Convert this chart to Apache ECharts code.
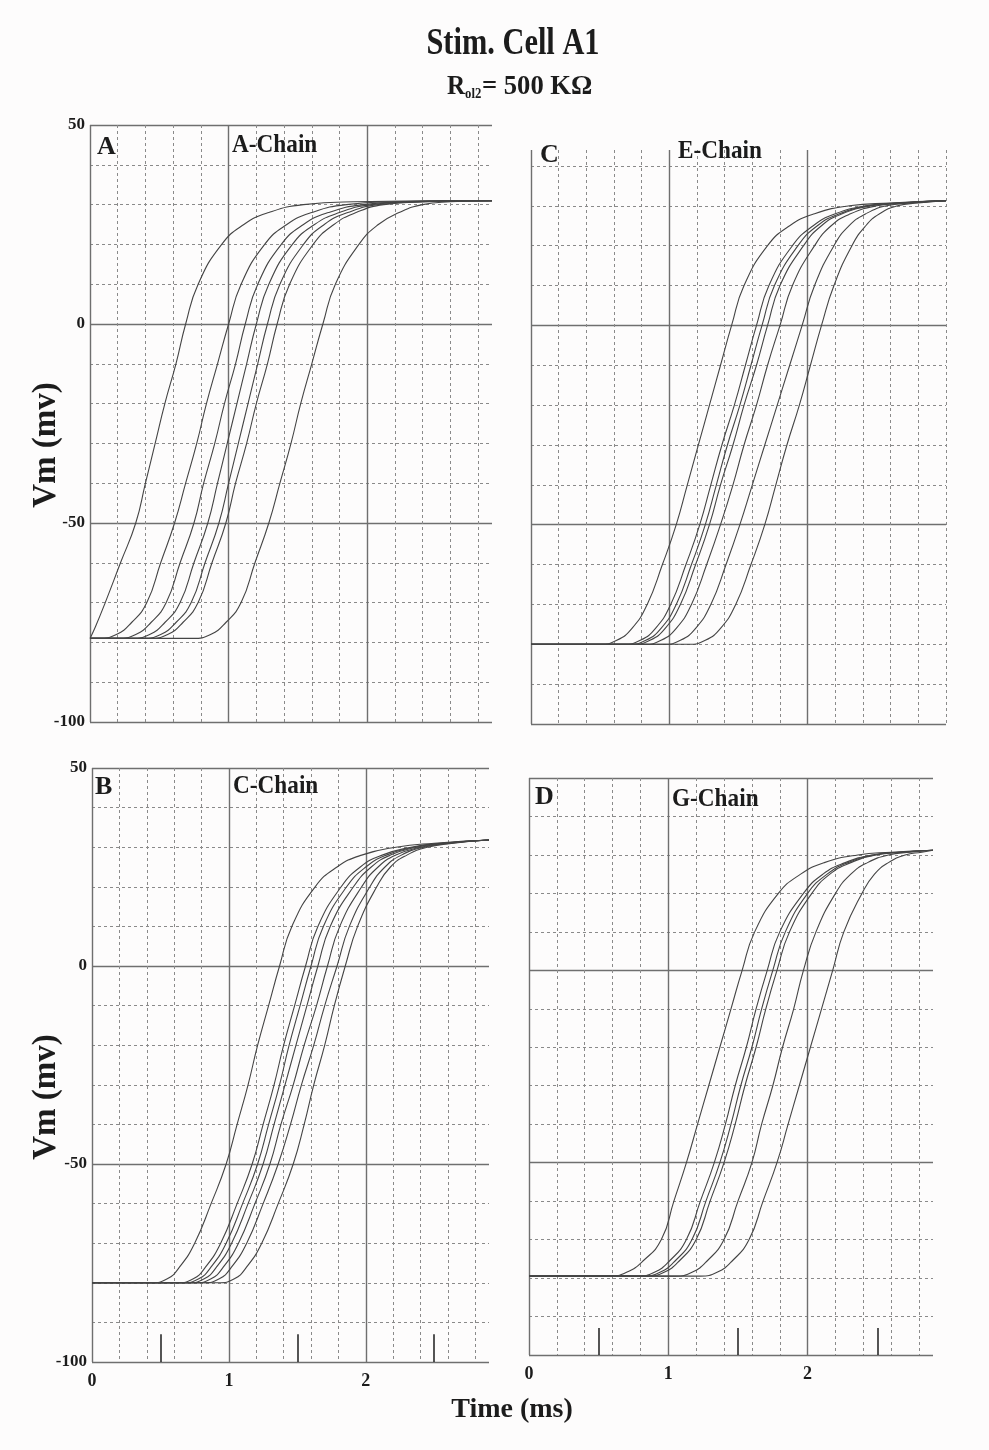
<!DOCTYPE html>
<html><head><meta charset="utf-8">
<script src="https://cdn.jsdelivr.net/npm/echarts@6/dist/echarts.min.js"></script>
<style>html,body{margin:0;padding:0;background:#fdfcfc}#c{width:989px;height:1450px}</style>
</head><body><div id="c"></div>
<script>
// ---------- tick labels ----------
const yTickValues = [-100, -50, 0, 50];
const xTickValues = [0, 1, 2];
// stimulus markers (time in ms) and their vertical extent (mV)
const stimTimes = [0.5, 1.5, 2.5];
const stimSpan = [-100, -93];

// ---------- Panel A : A-Chain ----------
const A1 = [[0,-79],[0.04,-76],[0.11,-70],[0.22,-60],[0.33,-50],[0.40,-40],[0.47,-30],[0.54,-20],[0.62,-10],[0.69,0],[0.78,10],[0.95,20],[1.11,25],[1.29,28],[1.54,30],[1.9,30.7],[2.9,31]];
const A2 = [[0,-79],[0.06,-79],[0.19,-78],[0.30,-75],[0.41,-70],[0.51,-60],[0.61,-50],[0.69,-40],[0.77,-30],[0.84,-20],[0.92,-10],[1.00,0],[1.09,10],[1.26,20],[1.42,25],[1.6,28],[1.85,30],[2.2,30.7],[2.9,31]];
const A3 = [[0,-79],[0.2,-79],[0.33,-78],[0.44,-75],[0.55,-70],[0.65,-60],[0.75,-50],[0.82,-40],[0.90,-30],[0.97,-20],[1.05,-10],[1.12,0],[1.21,10],[1.38,20],[1.54,25],[1.72,28],[1.97,30],[2.3,30.7],[2.9,31]];
const A4 = [[0,-79],[0.3,-79],[0.43,-78],[0.54,-75],[0.65,-70],[0.75,-60],[0.85,-50],[0.92,-40],[0.99,-30],[1.06,-20],[1.13,-10],[1.20,0],[1.29,10],[1.46,20],[1.62,25],[1.8,28],[2.03,30],[2.35,30.7],[2.9,31]];
const A5 = [[0,-79],[0.38,-79],[0.51,-78],[0.62,-75],[0.73,-70],[0.83,-60],[0.93,-50],[1.00,-40],[1.07,-30],[1.14,-20],[1.21,-10],[1.28,0],[1.37,10],[1.54,20],[1.69,25],[1.86,28],[2.08,30],[2.4,30.7],[2.9,31]];
const A6 = [[0,-79],[0.43,-79],[0.56,-78],[0.67,-75],[0.78,-70],[0.88,-60],[0.98,-50],[1.05,-40],[1.13,-30],[1.20,-20],[1.28,-10],[1.35,0],[1.44,10],[1.61,20],[1.76,25],[1.92,28],[2.12,30],[2.42,30.7],[2.9,31]];
const A7 = [[0,-79],[0.74,-79],[0.87,-78],[0.98,-75],[1.09,-70],[1.19,-60],[1.29,-50],[1.37,-40],[1.45,-30],[1.52,-20],[1.60,-10],[1.68,0],[1.77,10],[1.94,20],[2.08,25],[2.23,28],[2.4,30],[2.6,30.7],[2.9,31]];

// ---------- Panel B : C-Chain ----------
const B1 = [[0,-80],[0.43,-80],[0.55,-79],[0.64,-76],[0.75,-70],[0.87,-60],[0.98,-50],[1.06,-40],[1.14,-30],[1.21,-20],[1.29,-10],[1.37,0],[1.46,10],[1.63,20],[1.79,25],[1.97,28],[2.22,30],[2.5,31],[2.9,31.8]];
const B2 = [[0,-80],[0.62,-80],[0.74,-79],[0.83,-76],[0.94,-70],[1.06,-60],[1.17,-50],[1.25,-40],[1.33,-30],[1.40,-20],[1.48,-10],[1.56,0],[1.65,10],[1.82,20],[1.96,25],[2.12,28],[2.33,30],[2.55,31],[2.9,31.8]];
const B3 = [[0,-80],[0.66,-80],[0.78,-79],[0.87,-76],[0.98,-70],[1.10,-60],[1.21,-50],[1.29,-40],[1.37,-30],[1.44,-20],[1.52,-10],[1.60,0],[1.69,10],[1.86,20],[2.0,25],[2.15,28],[2.35,30],[2.57,31],[2.9,31.8]];
const B4 = [[0,-80],[0.70,-80],[0.82,-79],[0.91,-76],[1.02,-70],[1.14,-60],[1.25,-50],[1.33,-40],[1.41,-30],[1.49,-20],[1.57,-10],[1.65,0],[1.74,10],[1.91,20],[2.04,25],[2.18,28],[2.37,30],[2.58,31],[2.9,31.8]];
const B5 = [[0,-80],[0.75,-80],[0.87,-79],[0.96,-76],[1.07,-70],[1.19,-60],[1.30,-50],[1.38,-40],[1.47,-30],[1.55,-20],[1.64,-10],[1.72,0],[1.81,10],[1.97,20],[2.09,25],[2.22,28],[2.4,30],[2.6,31],[2.9,31.8]];
const B6 = [[0,-80],[0.81,-80],[0.93,-79],[1.02,-76],[1.13,-70],[1.25,-60],[1.36,-50],[1.45,-40],[1.53,-30],[1.62,-20],[1.70,-10],[1.79,0],[1.88,10],[2.03,20],[2.14,25],[2.26,28],[2.42,30],[2.62,31],[2.9,31.8]];
const B7 = [[0,-80],[0.92,-80],[1.04,-79],[1.13,-76],[1.24,-70],[1.36,-60],[1.47,-50],[1.55,-40],[1.62,-30],[1.70,-20],[1.77,-10],[1.85,0],[1.94,10],[2.08,20],[2.18,25],[2.3,28],[2.45,30],[2.64,31],[2.9,31.8]];

// ---------- Panel C : E-Chain ----------
const C1 = [[0,-80],[0.5,-80],[0.62,-79],[0.73,-76],[0.84,-70],[0.95,-60],[1.05,-50],[1.13,-40],[1.21,-30],[1.29,-20],[1.37,-10],[1.45,0],[1.54,10],[1.71,20],[1.87,25],[2.05,28],[2.3,30],[2.6,30.7],[3.0,31.3]];
const C2 = [[0,-80],[0.67,-80],[0.79,-79],[0.9,-76],[1.01,-70],[1.12,-60],[1.22,-50],[1.30,-40],[1.38,-30],[1.47,-20],[1.55,-10],[1.63,0],[1.72,10],[1.89,20],[2.04,25],[2.2,28],[2.42,30],[2.65,30.7],[3.0,31.3]];
const C3 = [[0,-80],[0.71,-80],[0.83,-79],[0.94,-76],[1.05,-70],[1.16,-60],[1.26,-50],[1.34,-40],[1.42,-30],[1.51,-20],[1.59,-10],[1.67,0],[1.76,10],[1.93,20],[2.07,25],[2.23,28],[2.44,30],[2.67,30.7],[3.0,31.3]];
const C4 = [[0,-80],[0.74,-80],[0.86,-79],[0.97,-76],[1.08,-70],[1.19,-60],[1.29,-50],[1.37,-40],[1.46,-30],[1.54,-20],[1.63,-10],[1.71,0],[1.80,10],[1.97,20],[2.1,25],[2.25,28],[2.46,30],[2.68,30.7],[3.0,31.3]];
const C5 = [[0,-80],[0.82,-80],[0.94,-79],[1.05,-76],[1.16,-70],[1.27,-60],[1.37,-50],[1.46,-40],[1.54,-30],[1.63,-20],[1.71,-10],[1.80,0],[1.89,10],[2.05,20],[2.17,25],[2.31,28],[2.5,30],[2.7,30.7],[3.0,31.3]];
const C6 = [[0,-80],[0.96,-80],[1.08,-79],[1.19,-76],[1.30,-70],[1.41,-60],[1.51,-50],[1.60,-40],[1.69,-30],[1.78,-20],[1.87,-10],[1.96,0],[2.05,10],[2.19,20],[2.3,25],[2.42,28],[2.57,30],[2.75,30.7],[3.0,31.3]];
const C7 = [[0,-80],[1.14,-80],[1.26,-79],[1.37,-76],[1.48,-70],[1.59,-60],[1.69,-50],[1.77,-40],[1.85,-30],[1.94,-20],[2.02,-10],[2.10,0],[2.19,10],[2.32,20],[2.42,25],[2.52,28],[2.65,30],[2.8,30.7],[3.0,31.3]];

// ---------- Panel D : G-Chain ----------
const D1 = [[0,-79.5],[0.58,-79.5],[0.70,-78.5],[0.82,-75.5],[0.95,-70],[1.04,-60],[1.13,-50],[1.21,-40],[1.29,-30],[1.37,-20],[1.45,-10],[1.53,0],[1.62,10],[1.79,20],[1.95,25],[2.12,28],[2.36,30],[2.6,30.7],[2.9,31.2]];
const D2 = [[0,-79.5],[0.78,-79.5],[0.90,-78.5],[1.01,-75.5],[1.13,-70],[1.23,-60],[1.33,-50],[1.41,-40],[1.48,-30],[1.56,-20],[1.63,-10],[1.71,0],[1.80,10],[1.97,20],[2.11,25],[2.27,28],[2.46,30],[2.66,30.7],[2.9,31.2]];
const D3 = [[0,-79.5],[0.82,-79.5],[0.94,-78.5],[1.05,-75.5],[1.17,-70],[1.27,-60],[1.37,-50],[1.45,-40],[1.52,-30],[1.60,-20],[1.67,-10],[1.75,0],[1.84,10],[2.0,20],[2.14,25],[2.29,28],[2.48,30],[2.67,30.7],[2.9,31.2]];
const D4 = [[0,-79.5],[0.85,-79.5],[0.97,-78.5],[1.08,-75.5],[1.20,-70],[1.30,-60],[1.40,-50],[1.48,-40],[1.55,-30],[1.63,-20],[1.70,-10],[1.78,0],[1.87,10],[2.03,20],[2.16,25],[2.31,28],[2.49,30],[2.68,30.7],[2.9,31.2]];
const D5 = [[0,-79.5],[1.05,-79.5],[1.17,-78.5],[1.28,-75.5],[1.40,-70],[1.50,-60],[1.60,-50],[1.67,-40],[1.75,-30],[1.82,-20],[1.90,-10],[1.97,0],[2.06,10],[2.2,20],[2.31,25],[2.43,28],[2.58,30],[2.74,30.7],[2.9,31.2]];
const D6 = [[0,-79.5],[1.23,-79.5],[1.35,-78.5],[1.46,-75.5],[1.58,-70],[1.68,-60],[1.78,-50],[1.86,-40],[1.94,-30],[2.02,-20],[2.10,-10],[2.18,0],[2.26,10],[2.39,20],[2.48,25],[2.58,28],[2.7,30],[2.82,30.7],[2.9,31.2]];

const chainA = [A1, A2, A3, A4, A5, A6, A7];
const chainC = [B1, B2, B3, B4, B5, B6, B7];
const chainE = [C1, C2, C3, C4, C5, C6, C7];
const chainG = [D1, D2, D3, D4, D5, D6];

// ---------- layout / style ----------
const SERIF = '"Liberation Serif","DejaVu Serif",serif';
const INK = '#1c1c1c';
const CURVE = '#444444';
const solidLine = {color: '#6f6f6f', width: 1.4, type: 'solid'};
const dashLine = {color: '#8a8a8a', width: 1, type: [3, 3]};

const panels = [
  {curves: chainA, grid: {left: 90, top: 125, width: 402, height: 597}, xMax: 2.9, yMax: 50, yLabels: true, xLabels: false, stim: false},
  {curves: chainC, grid: {left: 92, top: 768, width: 397, height: 594}, xMax: 2.9, yMax: 50, yLabels: true, xLabels: true, stim: true},
  {curves: chainE, grid: {left: 531, top: 150, width: 415, height: 574}, xMax: 3.0, yMax: 44, yLabels: false, xLabels: false, stim: false},
  {curves: chainG, grid: {left: 529, top: 778, width: 404, height: 577}, xMax: 2.9, yMax: 50, yLabels: false, xLabels: true, stim: true}
];

const grids = [], xAxes = [], yAxes = [], series = [];
panels.forEach((p, i) => {
  grids.push(Object.assign({containLabel: false}, p.grid));
  // minor (dashed) x grid
  xAxes.push({type: 'value', gridIndex: i, position: 'top', min: 0, max: p.xMax, interval: 0.2,
    axisLine: {show: false}, axisTick: {show: false}, axisLabel: {show: false},
    splitLine: {show: true, showMinLine: false, showMaxLine: p.xMax === 3.0, lineStyle: dashLine}});
  // major (solid) x grid + labels
  xAxes.push({type: 'value', gridIndex: i, position: 'bottom', min: 0, max: p.xMax, interval: 1,
    axisLine: {show: false}, axisTick: {show: false},
    axisLabel: {show: p.xLabels, showMaxLabel: false, margin: 10, color: INK, fontFamily: SERIF, fontWeight: 'bold', fontSize: 18,
      formatter: v => (xTickValues.indexOf(v) >= 0 ? String(v) : '')},
    splitLine: {show: true, showMaxLine: false, lineStyle: solidLine}});
  // minor (dashed) y grid
  yAxes.push({type: 'value', gridIndex: i, position: 'right', min: -100, max: p.yMax, interval: 10,
    axisLine: {show: false}, axisTick: {show: false}, axisLabel: {show: false},
    splitLine: {show: true, showMinLine: false, showMaxLine: false, lineStyle: dashLine}});
  // major (solid) y grid + labels
  yAxes.push({type: 'value', gridIndex: i, position: 'left', min: -100, max: p.yMax, interval: 50,
    axisLine: {show: false}, axisTick: {show: false},
    axisLabel: {show: p.yLabels, margin: 5, color: INK, fontFamily: SERIF, fontWeight: 'bold', fontSize: 17,
      formatter: v => (yTickValues.indexOf(v) >= 0 ? String(v) : '')},
    splitLine: {show: true, showMaxLine: p.yMax === 50, lineStyle: solidLine}});

  p.curves.forEach(c => {
    series.push({type: 'line', xAxisIndex: 2 * i + 1, yAxisIndex: 2 * i + 1, data: c,
      showSymbol: false, smooth: 0.5, silent: true,
      lineStyle: {color: CURVE, width: 1.1}, z: 5});
  });
  if (p.stim) {
    series.push({type: 'line', xAxisIndex: 2 * i + 1, yAxisIndex: 2 * i + 1, data: [], silent: true,
      markLine: {symbol: 'none', silent: true, label: {show: false}, animation: false,
        lineStyle: {color: '#2a2a2a', width: 1.6, type: 'solid'},
        data: stimTimes.map(t => [{coord: [t, stimSpan[0]]}, {coord: [t, stimSpan[1]]}])}});
  }
});

function txt(x, y, text, size, opts) {
  opts = opts || {};
  return Object.assign({type: 'text', x: x, y: y, z: 20,
    style: {text: text, x: 0, y: 0, fill: INK, align: opts.align || 'left', verticalAlign: 'middle',
      font: 'bold ' + size + 'px ' + SERIF}}, opts.el || {});
}

const graphics = [
  txt(513, 44, 'Stim. Cell A1', 38, {align: 'center', el: {scaleX: 0.8}}),
  txt(447, 87, 'R', 28, {el: {scaleX: 0.9}}),
  txt(465, 94, 'ol2', 15, {el: {scaleX: 0.85}}),
  txt(482, 87, '= 500 KΩ', 28, {el: {scaleX: 0.95}}),
  txt(97, 147, 'A', 26),
  txt(232, 146, 'A-Chain', 25, {el: {scaleX: 0.93}}),
  txt(540, 155, 'C', 26),
  txt(678, 152, 'E-Chain', 25, {el: {scaleX: 0.93}}),
  txt(95, 787, 'B', 26),
  txt(233, 787, 'C-Chain', 25, {el: {scaleX: 0.93}}),
  txt(535, 797, 'D', 26),
  txt(672, 800, 'G-Chain', 25, {el: {scaleX: 0.93}}),
  txt(46, 445, 'Vm (mv)', 33, {align: 'center', el: {rotation: Math.PI / 2}}),
  txt(46, 1097, 'Vm (mv)', 33, {align: 'center', el: {rotation: Math.PI / 2}}),
  txt(512, 1410, 'Time (ms)', 28, {align: 'center'})
];

const chart = echarts.init(document.getElementById('c'), null, {renderer: 'canvas'});
chart.setOption({
  backgroundColor: '#fdfcfc',
  animation: false,
  grid: grids,
  xAxis: xAxes,
  yAxis: yAxes,
  series: series,
  graphic: graphics
});
</script></body></html>
